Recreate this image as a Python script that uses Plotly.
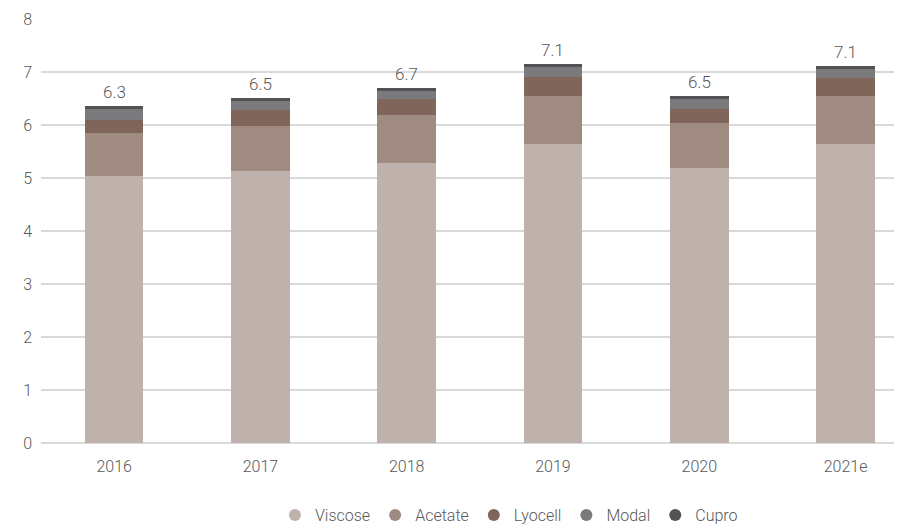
import plotly.graph_objects as go

years = ["2016", "2017", "2018", "2019", "2020", "2021e"]
viscose = [5.04, 5.13, 5.28, 5.64, 5.19, 5.64]
acetate = [0.81, 0.85, 0.91, 0.91, 0.85, 0.91]
lyocell = [0.24, 0.30, 0.30, 0.36, 0.26, 0.34]
modal = [0.21, 0.17, 0.15, 0.18, 0.19, 0.17]
cupro = [0.06, 0.06, 0.06, 0.06, 0.06, 0.05]
total_labels = ["6.3", "6.5", "6.7", "7.1", "6.5", "7.1"]

series = [
    ("Viscose", viscose, "#bfb1ab"),
    ("Acetate", acetate, "#a08b82"),
    ("Lyocell", lyocell, "#7f655a"),
    ("Modal", modal, "#7a7a7c"),
    ("Cupro", cupro, "#525254"),
]

FONT = "Roboto, sans-serif"
TXT = "#595959"

fig = go.Figure()
for name, vals, col in series:
    fig.add_trace(go.Bar(x=years, y=vals, name=name, marker=dict(color=col, line=dict(width=0)),
                         width=0.4, showlegend=False))
for name, vals, col in series:
    fig.add_trace(go.Scatter(x=[None], y=[None], mode="markers", name=name,
                             marker=dict(symbol="circle", size=14, color=col)))

totals = [sum(v) for v in zip(viscose, acetate, lyocell, modal, cupro)]
for i, (tot, lab) in enumerate(zip(totals, total_labels)):
    fig.add_annotation(x=i, y=tot, text=lab, showarrow=False, yanchor="bottom", yshift=2,
                       font=dict(size=17, color=TXT, family=FONT, weight=300))

fig.update_layout(
    barmode="stack",
    width=894, height=517,
    margin=dict(l=33, r=0, t=11, b=82, autoexpand=False),
    plot_bgcolor="white", paper_bgcolor="white",
    font=dict(family=FONT, size=16, color=TXT, weight=300),
    legend=dict(orientation="h", x=0.5435, xanchor="center", yref="container", y=0.019,
                yanchor="middle", font=dict(size=16, color=TXT, weight=300),
                itemsizing="constant", traceorder="normal", itemwidth=30),
    xaxis=dict(type="category", range=[-0.5, 5.386], showgrid=False, showline=False, zeroline=False,
               ticklabelstandoff=12, tickfont=dict(size=16, color=TXT, weight=300)),
    yaxis=dict(range=[0, 8], dtick=1, showgrid=True, gridcolor="#d9d9d9", gridwidth=1.5,
               zeroline=True, zerolinecolor="#d9d9d9", zerolinewidth=1.5,
               showline=False, ticklabelstandoff=8, tickfont=dict(size=16, color=TXT, weight=300)),
)

fig.write_html("out.html")
